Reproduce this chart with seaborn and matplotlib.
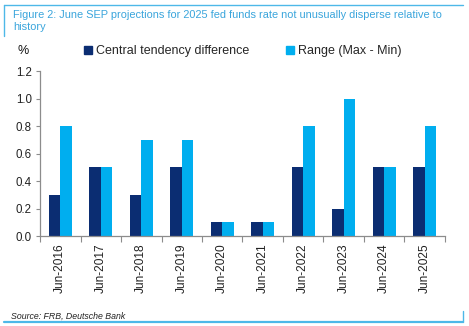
import matplotlib
matplotlib.use("Agg")
import matplotlib.pyplot as plt
from matplotlib.lines import Line2D
from matplotlib.ticker import FixedLocator
import pandas as pd
import seaborn as sns

years = ["Jun-2016", "Jun-2017", "Jun-2018", "Jun-2019", "Jun-2020",
         "Jun-2021", "Jun-2022", "Jun-2023", "Jun-2024", "Jun-2025"]
central_tendency = [0.3, 0.5, 0.3, 0.5, 0.1, 0.1, 0.5, 0.2, 0.5, 0.5]
range_max_min = [0.8, 0.5, 0.7, 0.7, 0.1, 0.1, 0.8, 1.0, 0.5, 0.8]
series_names = ["Central tendency difference", "Range (Max - Min)"]
y_ticks = [0.0, 0.2, 0.4, 0.6, 0.8, 1.0, 1.2]

dark_blue = "#0B2D72"
light_blue = "#00AEEF"
axis_grey = "#8C8C8C"
frame_blue = "#4DB8E8"

df = pd.DataFrame({
    "year": years * 2,
    "value": central_tendency + range_max_min,
    "series": [series_names[0]] * len(years) + [series_names[1]] * len(years),
})

sns.set_theme(style="white")
plt.rcParams["font.family"] = ["Liberation Sans", "DejaVu Sans"]

fig = plt.figure(figsize=(4.69, 3.26), dpi=100)
ax = fig.add_axes([0.0853, 0.276, 0.8635, 0.506])

sns.barplot(data=df, x="year", y="value", hue="series", order=years,
            hue_order=series_names, palette=[dark_blue, light_blue],
            width=0.56, saturation=1, linewidth=0, ax=ax, legend=False)

ax.set_xlim(-0.5, len(years) - 0.5)
ax.set_ylim(0, 1.2)
ax.set_yticks(y_ticks)
ax.set_yticklabels([f"{v:.1f}" for v in y_ticks], fontsize=8.3, color="#222222")
ax.set_xlabel("")
ax.set_ylabel("")
ax.set_xticks(range(len(years)))
ax.set_xticklabels(years, rotation=90, fontsize=8.6, color="#222222")
ax.xaxis.set_minor_locator(FixedLocator([i - 0.5 for i in range(len(years) + 1)]))
ax.tick_params(axis="x", which="major", length=0, pad=5)
ax.tick_params(axis="x", which="minor", length=4, width=0.8, color=axis_grey, direction="out", bottom=True)
ax.tick_params(axis="y", length=3, width=0.8, color=axis_grey, direction="out", left=True, pad=3)

for side in ["top", "right"]:
    ax.spines[side].set_visible(False)
for side in ["left", "bottom"]:
    ax.spines[side].set_color(axis_grey)
    ax.spines[side].set_linewidth(0.9)

# Title and percent unit
fig.text(0.028, 0.968, "Figure 2: June SEP projections for 2025 fed funds rate not unusually disperse relative to\nhistory",
         fontsize=7.9, color="#3AA5DC", va="top", ha="left", linespacing=1.2)
fig.text(0.038, 0.843, "%", fontsize=9, color="#111111", va="center", ha="left")

# Legend
handles = [Line2D([0], [0], marker="s", linestyle="", markersize=5.5,
                  markerfacecolor=c, markeredgecolor=c) for c in (dark_blue, light_blue)]
fig.legend(handles, series_names, ncol=2, loc="center left", bbox_to_anchor=(0.17, 0.843),
           frameon=False, fontsize=9, handlelength=0.6, handletextpad=0.3,
           columnspacing=3.0, borderaxespad=0)

# Source note
fig.text(0.024, 0.03, "Source: FRB, Deutsche Bank", fontsize=6.3, style="italic",
         color="#222222", va="center", ha="left")

# Page frame lines
frame = dict(color=frame_blue, linewidth=1.0, transform=fig.transFigure)
fig.add_artist(Line2D([0.009, 0.987], [0.985, 0.985], **frame))
fig.add_artist(Line2D([0.009, 0.009], [0.985, 0.89], **frame))
fig.add_artist(Line2D([0.009, 0.987], [0.012, 0.012], color=frame_blue, linewidth=1.6,
                      transform=fig.transFigure))
fig.add_artist(Line2D([0.987, 0.987], [0.012, 0.045], **frame))

fig.savefig("out.png", dpi=100)
